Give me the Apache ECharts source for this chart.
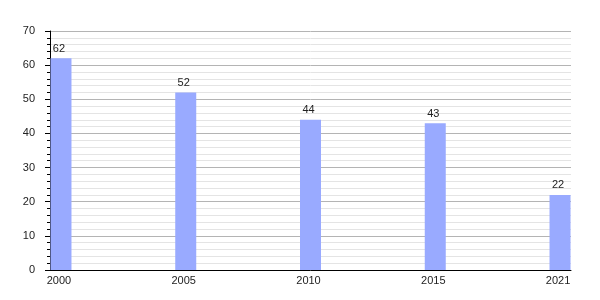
<!DOCTYPE html>
<html>
<head>
<meta charset="utf-8">
<script src="https://cdn.jsdelivr.net/npm/echarts@6/dist/echarts.min.js"></script>
<style>html,body{margin:0;padding:0;background:#fff}#c{width:600px;height:300px}</style>
</head>
<body>
<div id="c"></div>
<script>
const years = ['2000', '2005', '2010', '2015', '2021'];
const values = [62, 52, 44, 43, 22];
const yTicks = [0, 10, 20, 30, 40, 50, 60, 70];

const chart = echarts.init(document.getElementById('c'), null, {renderer: 'canvas'});
const positions = years.map((y, i) => i);
chart.setOption({
  animation: false,
  grid: {left: 50, right: 29, top: 31, bottom: 30, containLabel: false},
  xAxis: {
    type: 'value',
    min: -0.088,
    max: 4.088,
    axisLine: {show: true, onZero: false, lineStyle: {color: '#000', width: 1}},
    axisTick: {show: false},
    splitLine: {show: false},
    axisLabel: {
      customValues: positions,
      formatter: v => years[Math.round(v)],
      color: '#222',
      fontFamily: 'Liberation Sans, Arial, sans-serif',
      fontSize: 11,
      margin: 5,
      padding: [0, 4, 0, 0]
    }
  },
  yAxis: {
    type: 'value',
    min: yTicks[0],
    max: yTicks[yTicks.length - 1],
    interval: 10,
    axisLine: {show: true, onZero: false, lineStyle: {color: '#000', width: 1}},
    axisTick: {show: true, length: 5, lineStyle: {color: '#000'}},
    minorTick: {show: true, splitNumber: 5, length: 3, lineStyle: {color: '#000'}},
    splitLine: {show: true, lineStyle: {color: '#b4b4b4', width: 1}},
    minorSplitLine: {show: true, lineStyle: {color: '#e4e4e4', width: 1}},
    axisLabel: {
      color: '#222',
      fontFamily: 'Liberation Sans, Arial, sans-serif',
      fontSize: 11,
      margin: 15
    }
  },
  series: [{
    type: 'bar',
    data: values.map((v, i) => [positions[i], v]),
    barWidth: 21,
    itemStyle: {color: '#99aaff'},
    label: {
      show: true,
      position: 'top',
      distance: 4,
      offset: [-2, 0],
      color: '#222',
      fontFamily: 'Liberation Sans, Arial, sans-serif',
      fontSize: 11
    }
  }]
});
</script>
</body>
</html>
